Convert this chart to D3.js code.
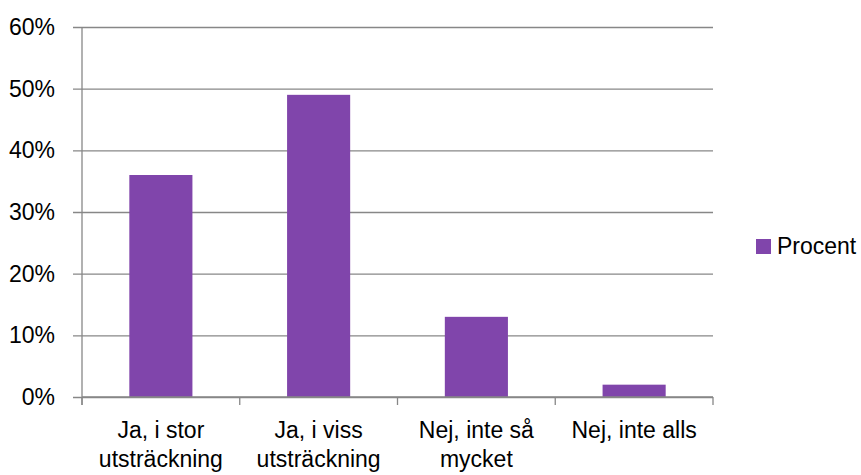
<!DOCTYPE html>
<html>
<head>
<meta charset="utf-8">
<script src="https://cdn.jsdelivr.net/npm/d3@7"></script>
<style>
  body { margin: 0; background: #fff; }
  text { font-family: "Liberation Sans", Arial, sans-serif; fill: #000; }
</style>
</head>
<body>
<div id="chart"></div>
<script>
// Data
const categories = [["Ja, i stor", "utsträckning"], ["Ja, i viss", "utsträckning"], ["Nej, inte så", "mycket"], ["Nej, inte alls"]];
const values = [0.36, 0.49, 0.13, 0.02];
const yTicks = [0, 0.1, 0.2, 0.3, 0.4, 0.5, 0.6];
const seriesName = "Procent";

const width = 861, height = 475;
const margin = {top: 27, right: 148, bottom: 78, left: 82};
const barColor = "#8045AB";
const gridColor = "#878787";
const fontSize = 23;

const svg = d3.select("#chart").append("svg")
    .attr("width", width)
    .attr("height", height);

const x = d3.scaleBand()
    .domain(d3.range(categories.length))
    .range([margin.left, width - margin.right]);

const y = d3.scaleLinear()
    .domain([0, 0.6])
    .range([height - margin.bottom, margin.top]);

// Gridlines + y labels
const yAxis = svg.append("g")
    .attr("transform", `translate(${margin.left},0)`)
    .call(d3.axisLeft(y).tickValues(yTicks).tickFormat(d3.format(".0%"))
        .tickSize(-(width - margin.right - margin.left)).tickPadding(27));
yAxis.select(".domain").remove();
yAxis.selectAll(".tick line").attr("stroke", gridColor).attr("stroke-width", 1.3).attr("x1", -9);
yAxis.selectAll(".tick text").style("font-size", fontSize + "px").attr("fill", "#000");

// Bars (gap width 150%)
const barW = x.bandwidth() * 0.4;
svg.append("g").selectAll("rect")
    .data(values)
    .join("rect")
    .attr("x", (d, i) => x(i) + (x.bandwidth() - barW) / 2)
    .attr("y", d => y(d))
    .attr("width", barW)
    .attr("height", d => y(0) - y(d))
    .attr("fill", barColor);

// Axis lines
const y0 = y(0);
svg.append("line")
    .attr("x1", margin.left).attr("x2", margin.left)
    .attr("y1", y(0.6)).attr("y2", y0 + 8)
    .attr("stroke", gridColor).attr("stroke-width", 1.3);
svg.append("line")
    .attr("x1", margin.left).attr("x2", width - margin.right)
    .attr("y1", y0).attr("y2", y0)
    .attr("stroke", gridColor).attr("stroke-width", 1.3);
const bounds = d3.range(categories.length + 1).map(i => i < categories.length ? x(i) : x(i - 1) + x.bandwidth());
svg.append("g").selectAll("line")
    .data(bounds)
    .join("line")
    .attr("x1", d => d).attr("x2", d => d)
    .attr("y1", y0).attr("y2", y0 + 8)
    .attr("stroke", gridColor).attr("stroke-width", 1.3);

// Category labels
const labels = svg.append("g").selectAll("text")
    .data(categories)
    .join("text")
    .attr("text-anchor", "middle")
    .attr("x", (d, i) => x(i) + x.bandwidth() / 2)
    .attr("y", y0 + 41)
    .style("font-size", fontSize + "px");
labels.selectAll("tspan")
    .data(d => d)
    .join("tspan")
    .attr("x", function() { return this.parentNode.getAttribute("x"); })
    .attr("dy", (d, i) => i === 0 ? 0 : 29)
    .text(d => d);

// Legend
const legend = svg.append("g").attr("transform", "translate(756,239)");
legend.append("rect").attr("width", 15).attr("height", 15).attr("fill", barColor);
legend.append("text").attr("x", 21).attr("y", 15).style("font-size", fontSize + "px").text(seriesName);
</script>
</body>
</html>
